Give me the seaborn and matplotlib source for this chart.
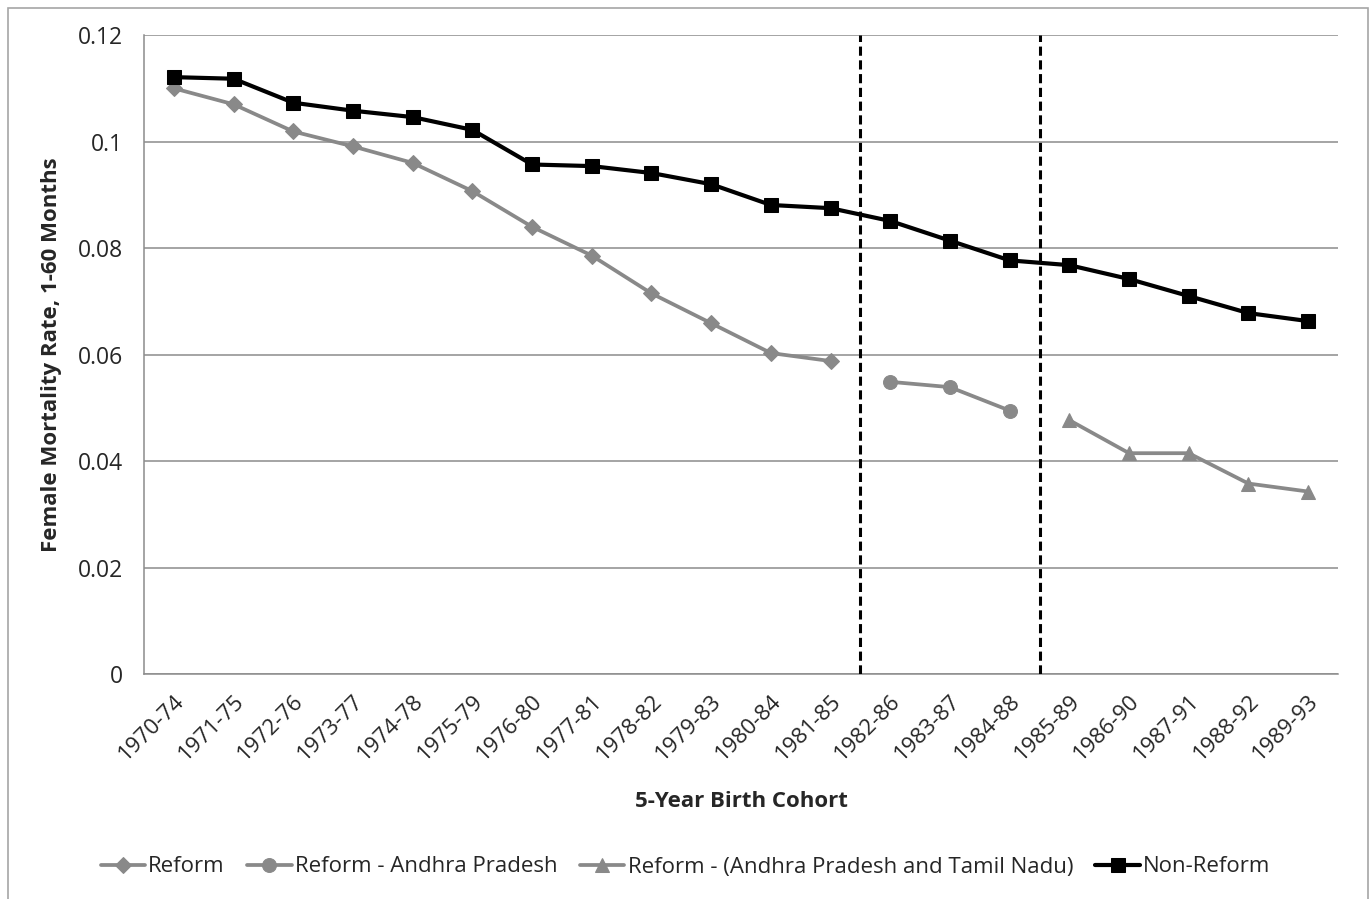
import numpy as np
import pandas as pd
import matplotlib
matplotlib.use("Agg")
import matplotlib.pyplot as plt
import matplotlib.patches as mpatches
import seaborn as sns

cohorts = ["1970-74", "1971-75", "1972-76", "1973-77", "1974-78", "1975-79",
           "1976-80", "1977-81", "1978-82", "1979-83", "1980-84", "1981-85",
           "1982-86", "1983-87", "1984-88", "1985-89", "1986-90", "1987-91",
           "1988-92", "1989-93"]

non_reform = [0.1121, 0.1118, 0.1073, 0.1058, 0.1046, 0.1022, 0.0957, 0.0954,
              0.0941, 0.0920, 0.0881, 0.0875, 0.0851, 0.0814, 0.0777, 0.0768,
              0.0742, 0.0710, 0.0678, 0.0663]
reform = [0.1100, 0.1070, 0.1019, 0.0991, 0.0960, 0.0907, 0.0840, 0.0786,
          0.0715, 0.0659, 0.0603, 0.0588]
reform_ap = [0.0549, 0.0539, 0.0495]
reform_ap_tn = [0.0477, 0.0415, 0.0415, 0.0358, 0.0343]

break_after = ["1981-85", "1984-88"]

labels = ["Reform", "Reform - Andhra Pradesh",
          "Reform - (Andhra Pradesh and Tamil Nadu)", "Non-Reform"]

sns.set_style("white")
plt.rcParams["font.family"] = ["Open Sans", "DejaVu Sans"]

fig = plt.figure(figsize=(13.71, 8.99), dpi=100)
ax = fig.add_axes([144 / 1371, 0.25, 1194 / 1371, 0.711])

pos = {c: i for i, c in enumerate(cohorts)}
gray = "#898989"

def frame(vals, start):
    cs = cohorts[start:start + len(vals)]
    return pd.DataFrame({"x": [pos[c] for c in cs], "y": vals})

n_r = len(reform)
n_ap = len(reform_ap)
d_reform = frame(reform, 0)
d_ap = frame(reform_ap, n_r)
d_aptn = frame(reform_ap_tn, n_r + n_ap)
d_nr = frame(non_reform, 0)

sns.lineplot(data=d_reform, x="x", y="y", ax=ax, color=gray, lw=2.7,
             marker="D", markersize=8, markeredgecolor=gray, label=labels[0], zorder=3)
sns.lineplot(data=d_ap, x="x", y="y", ax=ax, color=gray, lw=2.7,
             marker="o", markersize=10, markeredgecolor=gray, label=labels[1], zorder=3)
sns.lineplot(data=d_aptn, x="x", y="y", ax=ax, color=gray, lw=2.7,
             marker="^", markersize=10.5, markeredgecolor=gray, label=labels[2], zorder=3)
sns.lineplot(data=d_nr, x="x", y="y", ax=ax, color="black", lw=3.0,
             marker="s", markersize=10, markeredgecolor="black", label=labels[3], zorder=4)

for c in break_after:
    ax.axvline(pos[c] + 0.5, color="black", lw=2.2, ls=(0, (3, 1.5)), zorder=5)

ax.set_xlim(-0.5, len(cohorts) - 0.5)
ax.set_ylim(0, 0.12)
ax.set_yticks([0, 0.02, 0.04, 0.06, 0.08, 0.1, 0.12])
ax.set_yticklabels(["0", "0.02", "0.04", "0.06", "0.08", "0.1", "0.12"], fontsize=16.5)
ax.yaxis.grid(True, color="#8c8c8c", lw=1.1)
ax.set_axisbelow(True)

ax.set_xticks(np.arange(len(cohorts)))
ax.set_xticklabels(cohorts, rotation=45, ha="right", rotation_mode="anchor", fontsize=16)
ax.set_xticks(np.arange(len(cohorts) + 1) - 0.5, minor=True)
ax.tick_params(axis="x", which="major", length=0, pad=12)
ax.tick_params(axis="x", which="minor", length=8, color="#8c8c8c", width=1.1, direction="out")
ax.tick_params(axis="y", length=7, color="#8c8c8c", width=1.1, direction="out", pad=8)

for s in ["top", "right"]:
    ax.spines[s].set_visible(False)
for s in ["left", "bottom"]:
    ax.spines[s].set_color("#8c8c8c")
    ax.spines[s].set_linewidth(1.1)

ax.set_xlabel("5-Year Birth Cohort", fontsize=16, fontweight="bold")
ax.set_ylabel("Female Mortality Rate, 1-60 Months", fontsize=16, fontweight="bold")
ax.xaxis.set_label_coords(0.5, -0.182)
ax.yaxis.set_label_coords(-0.069, 0.5)

handles, lbls = ax.get_legend_handles_labels()
ax.legend_.remove()
fig.legend(handles, lbls, loc="center", bbox_to_anchor=(0.5, 1 - 867 / 899),
           ncol=4, frameon=False, fontsize=16, handlelength=2.0,
           handletextpad=0.15, columnspacing=1.0)

fig.patches.append(mpatches.Rectangle((8 / 1371, -0.01), 1360 / 1371, 1 - 8 / 899 + 0.01,
                                      transform=fig.transFigure, fill=False,
                                      edgecolor="#a6a6a6", lw=1.2))

fig.savefig("out.png", dpi=100)
